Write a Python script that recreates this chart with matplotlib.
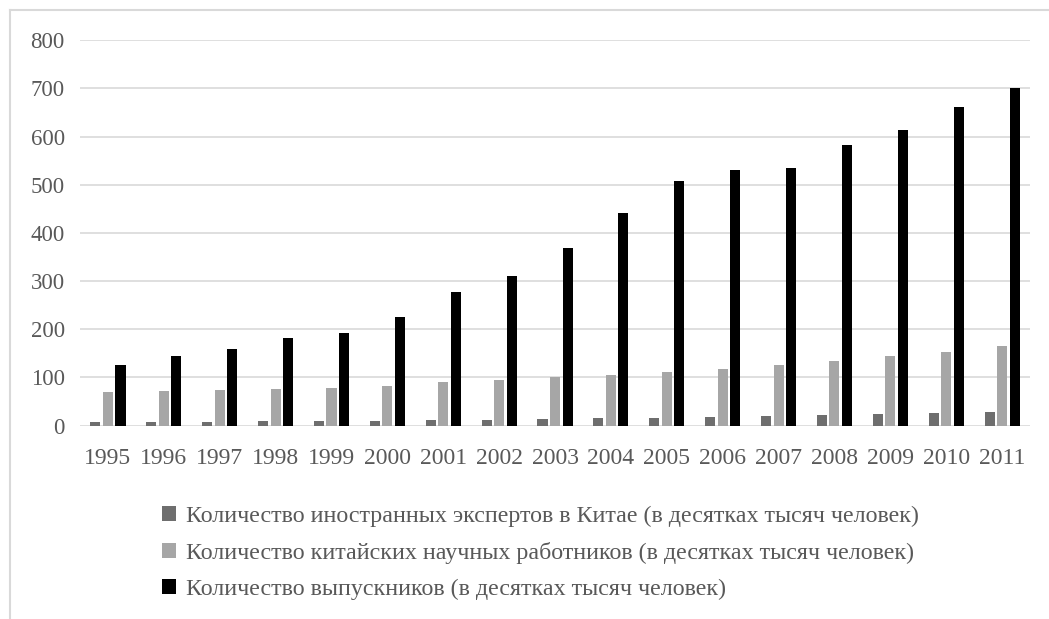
import matplotlib.pyplot as plt
import numpy as np
from matplotlib.lines import Line2D
from matplotlib.patches import Patch

# years and the three series (tens of thousands of people)
years = [str(y) for y in range(1995, 2012)]
experts = [8, 8, 8.5, 9, 10, 10, 11, 11.5, 13, 15, 16.5, 18, 21, 21.5, 24, 26, 29]
scientists = [70, 73, 75, 76.5, 79, 83, 90, 94.5, 100, 105, 111, 118, 126, 135, 145, 153, 166]
graduates = [125, 144, 160, 181, 193, 226, 278, 310, 368, 441, 508, 531, 535, 583, 613, 662, 700]

labels = [
    "Количество иностранных экспертов в Китае (в десятках тысяч человек)",
    "Количество китайских научных работников (в десятках тысяч человек)",
    "Количество выпускников (в десятках тысяч человек)",
]
colors = ["#6e6e6e", "#a6a6a6", "#000000"]

plt.rcParams['font.family'] = ['Liberation Serif', 'DejaVu Serif']

fig = plt.figure(figsize=(10.49, 6.19), dpi=100)
ax = fig.add_axes([0.0763, 0.3123, 0.9056, 0.6229])

x = np.arange(len(years))
w = 0.18
step = 0.224
for k, vals in enumerate([experts, scientists, graduates]):
    ax.bar(x + (k - 1) * step, vals, width=w, color=colors[k], zorder=3)

ax.set_xlim(-0.5, len(years) - 0.5)
ax.set_ylim(0, 800)
ax.set_yticks(range(0, 801, 100))
ax.set_xticks(x)
ax.set_xticklabels(years)
ax.yaxis.grid(True, color="#d9d9d9", linewidth=1.2, zorder=0)
for s in ax.spines.values():
    s.set_visible(False)
ax.tick_params(axis='both', length=0, labelcolor="#595959")
ax.tick_params(axis='y', pad=11, labelsize=16.5)
ax.tick_params(axis='x', pad=16, labelsize=17)

handles = [Patch(facecolor=c, edgecolor='none') for c in colors]
fig.legend(handles, labels, loc='upper left', bbox_to_anchor=(0.1545, 0.183),
           frameon=False, fontsize=17.3, labelcolor="#595959",
           handlelength=0.6, handleheight=0.6, handletextpad=0.4,
           labelspacing=0.62, borderpad=0, borderaxespad=0)

# thin outer frame along the top and left
fy = 1 - 10 / 619
fx = 10 / 1049
fig.add_artist(Line2D([fx, 1], [fy, fy], color="#d9d9d9", lw=1.5, transform=fig.transFigure))
fig.add_artist(Line2D([fx, fx], [0, fy], color="#d9d9d9", lw=1.5, transform=fig.transFigure))

fig.savefig("out.png", dpi=100)
